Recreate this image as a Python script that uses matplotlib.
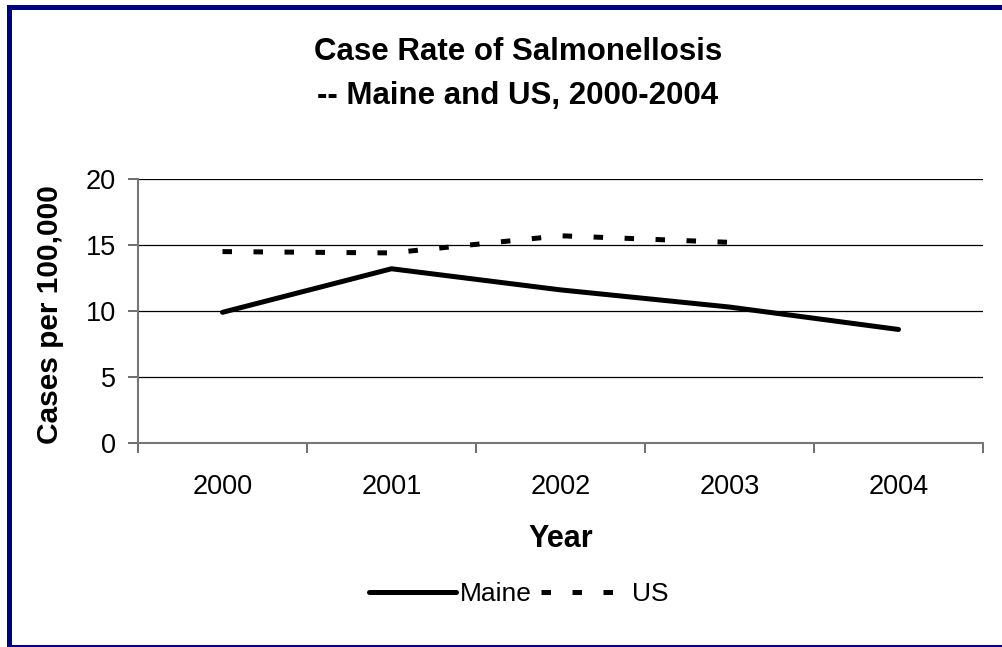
import matplotlib
matplotlib.use("Agg")
import matplotlib.pyplot as plt
from matplotlib.patches import Rectangle
import numpy as np

plt.rcParams['font.family'] = ['Liberation Sans', 'DejaVu Sans']

years = ["2000", "2001", "2002", "2003", "2004"]
maine = [9.9, 13.2, 11.6, 10.3, 8.6]
us = [14.5, 14.4, 15.7, 15.2]
yticks = [0, 5, 10, 15, 20]

W, H = 1003, 647
fig = plt.figure(figsize=(W/100, H/100), dpi=100)
# navy chart-area frame (right edge runs off the image)
fig.patches.append(Rectangle((9.5/W, 0.5/H), (W + 20)/W, (H - 7.0)/H, transform=fig.transFigure,
                             fill=False, edgecolor='#000080', linewidth=3.6, zorder=10))

ax = fig.add_axes([138/W, 1-443/H, (983-138)/W, (443-179)/H])
x = np.arange(len(years))
ax.plot(x, maine, color='black', lw=3.6, solid_capstyle='round', label='Maine', zorder=3)
ax.plot(x[:len(us)], us, color='black', lw=3.6, linestyle=(0, (1.9, 4.3)),
        dash_capstyle='butt', label='US', zorder=3)

ax.set_xlim(-0.5, len(years)-0.5)
ax.set_ylim(0, 20)
ax.set_yticks(yticks)
ax.set_yticklabels([str(v) for v in yticks], fontsize=19.5)
ax.yaxis.grid(True, color='black', lw=0.9)
ax.set_axisbelow(True)
ax.set_xticks(np.arange(-0.5, len(years), 1.0))
ax.set_xticklabels([])
ax.set_xticks(x, minor=True)
ax.set_xticklabels(years, minor=True, fontsize=19.5)
ax.tick_params(axis='x', which='minor', length=0, pad=22.5)
ax.tick_params(axis='x', which='major', length=7, color='#555555', width=1.2)
ax.tick_params(axis='y', length=7, color='#555555', width=1.2, pad=9)
for s in ['top', 'right']:
    ax.spines[s].set_visible(False)
for s in ['left', 'bottom']:
    ax.spines[s].set_color('#777777')
    ax.spines[s].set_linewidth(1.5)

fig.text(50/W, 1-315/H, "Cases per 100,000", rotation=90, ha='center', va='center',
         fontsize=21.5, fontweight='bold')
fig.text(561/W, 1-547/H, "Year", ha='center', va='baseline', fontsize=22, fontweight='bold')
fig.text(518/W, 1-60/H, "Case Rate of Salmonellosis", ha='center', va='baseline',
         fontsize=22.5, fontweight='bold')
fig.text(518/W, 1-104/H, "-- Maine and US, 2000-2004", ha='center', va='baseline',
         fontsize=22.5, fontweight='bold')

fig.legend(loc='center', bbox_to_anchor=(519/W, 1-594/H), ncol=2, frameon=False,
           fontsize=19, handlelength=3.3, handletextpad=0.15, columnspacing=0.35,
           borderpad=0, borderaxespad=0)

fig.savefig("out.png", dpi=100)
